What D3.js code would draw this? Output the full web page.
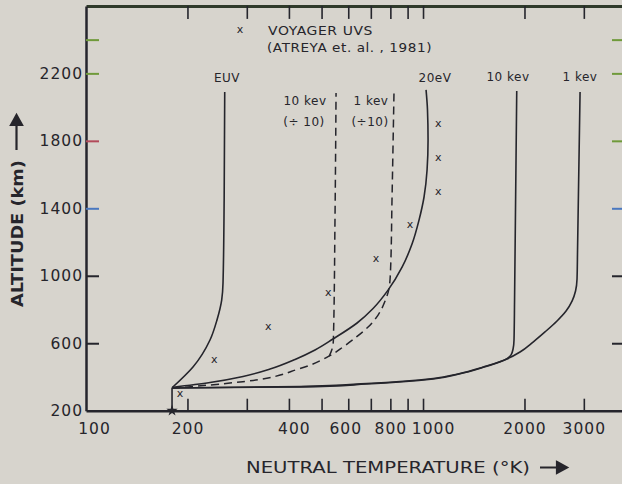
<!DOCTYPE html>
<meta charset="utf-8">
<style>
body { margin: 0; background: #d7d4cd; }
svg { display: block; background: #d7d4cd; }
text { font-family: "DejaVu Sans", sans-serif; fill: #26252b; }
.curve { fill: none; stroke: #25252c; stroke-width: 1.6px; }
.dash { stroke-dasharray: 8 5; stroke-width: 1.5px; }
.axis path.domain { stroke: #25252c; stroke-width: 2.5px; }
.axis line { stroke: #25252c; stroke-width: 1.6px; }
.ticklbl text { font-size: 15.5px; letter-spacing: 1px; fill: #26252b; }
.ticklbl path, .ticklbl line { display: none; }
.lbl { font-size: 12px; letter-spacing: 0.5px; }
.vx { font-size: 11px; }
</style>
<body>
<svg width="622" height="484"></svg>
</body>
<script src="https://d3js.org/d3.v7.min.js"></script>
<script>

// axis ticks and labels
var xTickValues = [200, 300, 400, 500, 600, 700, 800, 900, 1000, 2000, 3000];
var xTickLabels = [100, 200, 400, 600, 800, 1000, 2000, 3000];
var yTickValues = [600, 1000, 1400, 1800, 2200, 2400];
var yTickLabels = [200, 600, 1000, 1400, 1800, 2200];

// curves: temperature (K) vs altitude (km)
var baseT   = [180, 180];
var baseAlt = [200, 336];

var euvT   = [180, 207.7, 233.3, 244.7, 252.7, 255, 257, 258];
var euvAlt = [336, 459, 619, 738, 856, 957, 1449, 2089];

var ev20T   = [180, 233.3, 292.4, 351.6, 417.2, 478.1, 540.6, 637.3, 710.8, 787.5, 866.6, 927.6, 973, 1007, 1028, 1035, 1031, 1021];
var ev20Alt = [338, 367, 403, 447, 504, 560, 625, 720, 806, 915, 1051, 1188, 1330, 1467, 1627, 1805, 1983, 2102];

var kev10T   = [180, 431.5, 681, 1073, 1270, 1510, 1775, 1825, 1850, 1862, 1869, 1897];
var kev10Alt = [335, 343, 361, 391, 418, 459, 509, 531, 566, 619, 856, 2095];

var kev1T   = [180, 431.5, 681, 1073, 1270, 1510, 1775, 1940, 2121, 2301, 2498, 2657, 2768, 2835, 2864, 2874, 2924];
var kev1Alt = [335, 341, 358, 388, 416, 457, 507, 548, 607, 667, 732, 791, 850, 910, 981, 1151, 2089];

// dashed curves (divided by 10)
var kev1DivT   = [180, 292, 431.5, 527, 580, 636, 687, 735.5, 771.5, 793, 801, 809, 820];
var kev1DivAlt = [333, 372, 450, 524, 579, 639, 696, 767, 850, 927, 1034, 1449, 2083];

var kev10DivT   = [527, 536, 542, 548, 552];
var kev10DivAlt = [524, 560, 619, 1330, 2083];

// Voyager UVS points (Atreya et al., 1981)
var voyT   = [190, 240, 347.5, 523.6, 725, 915, 1110, 1110, 1110];
var voyAlt = [303, 500, 700, 900, 1100, 1300, 1500, 1700, 1900];

var svg = d3.select("svg");

var x = d3.scaleLog().domain([100, 3894]).range([86, 622]);
var y = d3.scaleLinear().domain([200, 2600]).range([410.7, 5.9]);

function pts(ts, as) { return ts.map(function(t, i) { return [t, as[i]]; }); }

var line = d3.line()
  .x(function(d) { return x(d[0]); })
  .y(function(d) { return y(d[1]); })
  .curve(d3.curveMonotoneY);

// tick colours (scanner fringes)
var leftTickColor  = {2400: "#6f9a3a", 2200: "#6f9a3a", 1800: "#b24a5a", 1400: "#4a78c0"};
var rightTickColor = {2400: "#6f9a3a", 2200: "#6f9a3a", 1800: "#6f9a3a", 1400: "#4a78c0"};

// bottom axis (ticks inside)
svg.append("g").attr("class", "axis")
  .attr("transform", "translate(0," + y(200) + ")")
  .call(d3.axisBottom(x).tickValues(xTickValues).tickSize(-12).tickSizeOuter(0).tickFormat(""));

// top axis
svg.append("g").attr("class", "axis")
  .attr("transform", "translate(0," + y(2600) + ")")
  .call(d3.axisTop(x).tickValues(xTickValues).tickSize(-13).tickSizeOuter(0).tickFormat(""))
  .select("path.domain").style("stroke", "#2f3a2a").style("stroke-width", "3px");

// left axis
svg.append("g").attr("class", "axis yl")
  .attr("transform", "translate(" + x(100) + ",0)")
  .call(d3.axisLeft(y).tickValues(yTickValues).tickSize(-13).tickSizeOuter(0).tickFormat(""))
  .selectAll(".tick line").style("stroke", function(d) { return leftTickColor[d] || "#25252c"; })
  .style("stroke-width", "2px");

// right axis
var gr = svg.append("g").attr("class", "axis")
  .attr("transform", "translate(622,0)")
  .call(d3.axisRight(y).tickValues(yTickValues).tickSize(-10).tickSizeOuter(0).tickFormat(""));
gr.select("path.domain").remove();
gr.selectAll(".tick line").style("stroke", function(d) { return rightTickColor[d] || "#25252c"; })
  .style("stroke-width", "2px");

// tick labels
var nudge = {100: 8, 400: 5, 600: -3, 1000: 10};
svg.append("g").attr("class", "ticklbl")
  .attr("transform", "translate(0," + y(200) + ")")
  .call(d3.axisBottom(x).tickValues(xTickLabels).tickSize(0).tickPadding(12).tickFormat(d3.format("d")))
  .selectAll("text").attr("dx", function(d) { return nudge[d] || 0; });

svg.append("g").attr("class", "ticklbl")
  .attr("transform", "translate(" + x(100) + ",0)")
  .call(d3.axisLeft(y).tickValues(yTickLabels).tickSize(0).tickPadding(3).tickFormat(d3.format("d")));

// curves
svg.append("path").attr("class", "curve").attr("d", line(pts(baseT, baseAlt)));
svg.append("path").attr("class", "curve").attr("d", line(pts(euvT, euvAlt)));
svg.append("path").attr("class", "curve").attr("d", line(pts(ev20T, ev20Alt)));
svg.append("path").attr("class", "curve").attr("d", line(pts(kev10T, kev10Alt)));
svg.append("path").attr("class", "curve").attr("d", line(pts(kev1T, kev1Alt)));
svg.append("path").attr("class", "curve dash").attr("d", line(pts(kev1DivT, kev1DivAlt)));
svg.append("path").attr("class", "curve dash").attr("d", line(pts(kev10DivT, kev10DivAlt)));

// base marker
svg.append("path")
  .attr("d", d3.symbol().type(d3.symbolStar).size(40)())
  .attr("transform", "translate(" + x(180) + "," + y(200) + ")")
  .attr("fill", "#25252c");

// Voyager points
svg.selectAll("text.vx")
  .data(pts(voyT, voyAlt))
  .enter().append("text")
    .attr("class", "vx")
    .attr("x", function(d) { return x(d[0]); })
    .attr("y", function(d) { return y(d[1]); })
    .attr("text-anchor", "middle")
    .attr("dy", "0.3em")
    .text("x");

// legend
svg.append("text").attr("class", "vx").attr("x", 240).attr("y", 30)
  .attr("text-anchor", "middle").attr("dy", "0.3em").text("x");
svg.append("text").attr("class", "lbl").attr("x", 268).attr("y", 34.5)
  .attr("textLength", 105).attr("lengthAdjust", "spacingAndGlyphs").text("VOYAGER  UVS");
svg.append("text").attr("class", "lbl").attr("x", 267).attr("y", 51.5)
  .attr("textLength", 165).attr("lengthAdjust", "spacingAndGlyphs").text("(ATREYA  et.  al. , 1981)");

// curve labels
var curveLabels = [
  {t: "EUV", x: 227, y: 82},
  {t: "20eV", x: 435, y: 82},
  {t: "10 kev", x: 508, y: 81},
  {t: "1 kev", x: 580, y: 81},
  {t: "10 kev", x: 305, y: 105},
  {t: "(\u00f7 10)", x: 304, y: 126},
  {t: "1 kev", x: 371, y: 105},
  {t: "(\u00f710)", x: 370, y: 126}
];
svg.selectAll("text.cl")
  .data(curveLabels)
  .enter().append("text")
    .attr("class", "lbl cl")
    .attr("x", function(d) { return d.x; })
    .attr("y", function(d) { return d.y; })
    .attr("text-anchor", "middle")
    .text(function(d) { return d.t; });

// axis titles
svg.append("text")
  .attr("x", 246).attr("y", 473)
  .attr("textLength", 284).attr("lengthAdjust", "spacingAndGlyphs")
  .style("font-size", "15.5px")
  .text("NEUTRAL  TEMPERATURE  (\u00b0K)");
svg.append("path")
  .attr("d", "M540,467.5 H558 M557,462 L567,467.5 L557,473 Z")
  .attr("stroke", "#26252b").attr("stroke-width", 2.2).attr("fill", "#26252b");

svg.append("text")
  .attr("transform", "translate(23,307) rotate(-90)")
  .attr("textLength", 147).attr("lengthAdjust", "spacingAndGlyphs")
  .style("font-size", "15.5px").style("font-weight", "bold")
  .text("ALTITUDE  (km)");
svg.append("path")
  .attr("d", "M16.5,150 V124 M11,125 L16.5,115 L22,125 Z")
  .attr("stroke", "#26252b").attr("stroke-width", 2.2).attr("fill", "#26252b");

</script>
